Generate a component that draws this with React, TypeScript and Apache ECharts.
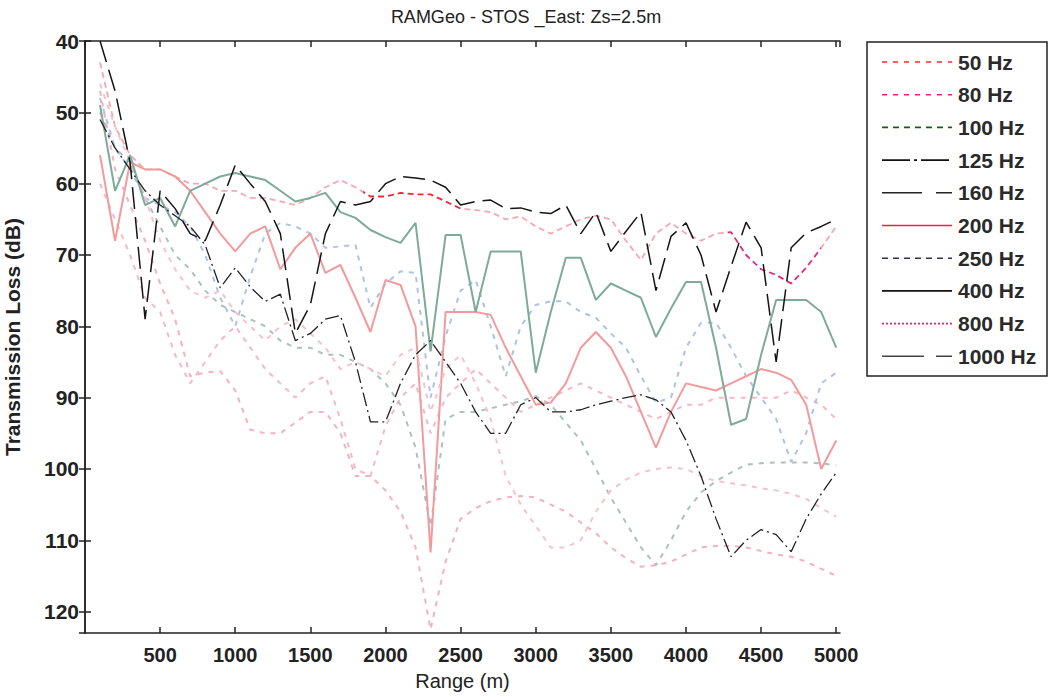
import React, { useEffect, useRef } from "react";
import * as echarts from "echarts";

const ranges = [100, 200, 300, 400, 500, 600, 700, 800, 900, 1000, 1100, 1200, 1300, 1400, 1500, 1600, 1700, 1800, 1900, 2000, 2100, 2200, 2300, 2400, 2500, 2600, 2700, 2800, 2900, 3000, 3100, 3200, 3300, 3400, 3500, 3600, 3700, 3800, 3900, 4000, 4100, 4200, 4300, 4400, 4500, 4600, 4700, 4800, 4900, 5000];

const hz50 = [43, 52, 56, 58, 58, 59, 60, 60, 61, 61, 62, 62, 62.5, 63, 62, 60.5, 59.5, 60.5, 61.8, 61.8, 61.3, 61.5, 61.5, 62.5, 63.5, 63.7, 64, 65, 64.6, 66, 67, 66, 65, 64.5, 65, 68, 70.7, 67, 65.5, 67, 68, 67, 66.8, 70, 72, 72.8, 74, 71.8, 69, 66];
const hz80 = [60, 65, 70, 76, 78, 84, 88, 85, 82, 80, 83, 86, 88, 90, 88, 87, 93, 100, 101, 94, 90, 88, 95, 90, 88, 86, 88, 90, 92, 91, 90, 89, 88, 89, 90, 91, 92, 93, 92, 91, 91, 90, 90, 90, 90, 90, 89, 90, 91, 93];
const hz100 = [50, 55, 57, 62, 66, 70, 72, 75, 77, 78, 79, 80, 82, 83, 83, 84, 84, 85, 86, 88, 91, 97, 108, 93, 92, 92, 91.5, 91, 90.5, 89.8, 91, 93.5, 96, 100, 104, 107.5, 111, 113.5, 110, 106, 103.3, 101.7, 100.5, 99.4, 99.2, 99.1, 99.1, 99.1, 99.2, 99.5];
const hz125 = [48, 55, 58, 62, 63, 64, 66, 70, 76, 80, 73, 67, 65.5, 66, 67, 69, 68.8, 68.6, 77.4, 74, 72.3, 72.5, 90, 81.4, 75, 73.5, 80, 87, 80, 77, 76.5, 76.5, 78, 78.8, 81, 83, 87, 90.7, 90, 83, 79.5, 79.5, 83, 87, 90, 93, 99, 95, 88, 86.5];
const hz160 = [40, 47, 57, 79, 61, 63.5, 67, 68, 63, 57.4, 60, 62.5, 67, 81, 77, 67, 62.5, 63, 62.5, 60, 59, 59.2, 59.5, 60.5, 63, 62.5, 62.3, 63.5, 63.4, 64, 64.2, 63, 67, 64, 69.5, 66.7, 64, 75, 67.4, 65.5, 70, 78, 71.6, 65.4, 69, 85, 69, 66.9, 66, 65];
const hz200 = [56, 68, 57, 58, 58, 59, 61, 64, 67, 69.5, 67, 66, 72, 69, 67, 72.5, 71.4, 76, 80.8, 73.5, 74.2, 80, 111.7, 78, 78, 78, 78.4, 83, 87, 91, 90.7, 88, 83, 80.8, 83, 87, 92, 97, 92, 88, 88.5, 89, 88, 87, 86, 86.5, 87.5, 91, 100, 96];
const hz250 = [47, 58, 63, 68, 74, 79, 87, 86.5, 86.3, 89, 94.5, 95, 95, 93.5, 92, 92, 95, 101, 101, 103, 106, 111, 122.5, 113, 107, 105.5, 104.5, 104, 103.8, 104, 105, 106, 107.5, 109, 111, 112.5, 113.7, 113.5, 113, 112, 111, 110.8, 110.8, 111, 111.5, 112, 112.3, 113, 114, 115];
const hz400 = [51, 55, 58, 61, 63, 64.5, 66, 68.6, 74.6, 71.8, 74.5, 76.5, 75.5, 82, 81, 79, 78.5, 85, 93.4, 93.4, 88, 84, 82, 85, 88, 92, 95, 95, 91, 90, 92, 92, 91.7, 91, 90.5, 90, 89.6, 90.3, 92, 96, 101, 107, 112.3, 110, 108.5, 109.2, 111.6, 107, 103.5, 100.5];
const hz800 = [46, 52, 57, 62, 68, 72, 75, 76, 75, 78, 80, 82, 80, 79, 81, 83, 86, 85, 86, 87, 84, 83, 92, 86, 84, 88, 93, 101, 105, 108, 111, 111, 110, 106, 103, 101.5, 100.5, 100, 99.8, 100, 101, 101.7, 102, 102.3, 102.7, 103, 103.5, 104.2, 105.5, 106.7];
const hz1000 = [49, 61, 56, 63, 62, 66, 61, 60, 59, 58.5, 59, 59.5, 61, 62.5, 62, 61.3, 64, 64.8, 66.5, 67.5, 68.3, 65.5, 83.5, 67.2, 67.2, 78, 69.5, 69.5, 69.5, 86.5, 78, 70.4, 70.4, 76.3, 74, 75, 76, 81.5, 77.5, 73.8, 73.8, 83, 93.8, 93, 84, 76.3, 76.3, 76.3, 78, 83];

const legendLabels = ["50 Hz", "80 Hz", "100 Hz", "125 Hz", "160 Hz", "200 Hz", "250 Hz", "400 Hz", "800 Hz", "1000 Hz"];
const seriesValues = [hz50, hz80, hz100, hz125, hz160, hz200, hz250, hz400, hz800, hz1000];

// plotted (faded scan) styles
const plotStyles: any[] = [
  { type: [6, 4], width: 1.8 },
  { color: "#f4b8c6", type: [5, 6], width: 2 },
  { color: "#aec0b9", type: [5, 6], width: 2 },
  { color: "#adc2e4", type: [5, 6], width: 2 },
  { color: "#151515", type: [22, 8], width: 1.5 },
  { color: "#f29a9c", type: "solid", width: 2 },
  { color: "#f2b2bf", type: [5, 6], width: 2 },
  { color: "#222222", type: [14, 4, 2, 4], width: 1.3 },
  { color: "#f5c3cc", type: [5, 6], width: 2 },
  { color: "#7eaa9a", type: "solid", width: 2 },
];

// legend sample styles
const legendStyles = [
  { color: "#ff2a2a", dash: [5, 6] },
  { color: "#e0208a", dash: [5, 6] },
  { color: "#1a5c1a", dash: [6, 5] },
  { color: "#111111", dash: [28, 4, 3, 4] },
  { color: "#222222", dash: [40, 14, 16] },
  { color: "#ff2020", dash: null },
  { color: "#3c2c44", dash: [6, 5] },
  { color: "#111111", dash: null },
  { color: "#e0207a", dash: [2, 2] },
  { color: "#444444", dash: [42, 12, 16] },
];

export default function App() {
  const ref = useRef<HTMLDivElement>(null);
  useEffect(() => {
    if (!ref.current) return;
    const chart = echarts.init(ref.current, null, { renderer: "svg" });
    const font = "'Liberation Sans', Arial, sans-serif";
    const series = seriesValues.map((vals, i) => {
      const s: any = {
        type: "line",
        name: legendLabels[i],
        data: vals.map((v, j) => [ranges[j], v]),
        symbol: "none",
        lineStyle: plotStyles[i],
        z: i === 4 || i === 7 ? 5 : 2,
      };
      if (plotStyles[i].color) s.itemStyle = { color: plotStyles[i].color };
      return s;
    });

    const legendGraphics: any[] = [
      {
        type: "rect",
        shape: { x: 867, y: 42, width: 180, height: 334 },
        style: { fill: "#fff", stroke: "#222", lineWidth: 1.5 },
      },
    ];
    legendLabels.forEach((lab, i) => {
      const y = 62 + i * 32.7;
      const st = legendStyles[i];
      legendGraphics.push({
        type: "line",
        shape: { x1: 882, y1: y, x2: 952, y2: y },
        style: { stroke: st.color, lineWidth: 1.6, lineDash: st.dash || undefined },
      });
      legendGraphics.push({
        type: "text",
        x: 958,
        y: y,
        style: {
          text: lab,
          fill: "#2a2a2a",
          font: `bold 21px ${font}`,
          verticalAlign: "middle",
        },
      });
    });

    const axisCommon = {
      type: "value",
      splitLine: { show: false },
      axisLine: { show: true, lineStyle: { color: "#222", width: 1.5 } },
      axisTick: { show: true, inside: true, length: 6, lineStyle: { color: "#222", width: 1.5 } },
    };

    chart.setOption({
      animation: false,
      backgroundColor: "#fff",
      title: {
        text: "RAMGeo - STOS _East: Zs=2.5m",
        left: 521,
        top: 3,
        textAlign: "center",
        textStyle: { fontFamily: font, fontSize: 18, fontWeight: "normal", color: "#222" },
      },
      grid: { left: 85, right: 213, top: 41, bottom: 64, show: false, outerBoundsMode: "none", containLabel: false },
      visualMap: {
        show: false,
        type: "piecewise",
        seriesIndex: 0,
        dimension: 0,
        pieces: [
          { gte: 0, lt: 1850, color: "#f3a9b4" },
          { gte: 1850, lte: 2520, color: "#ee2a36" },
          { gt: 2520, lt: 4250, color: "#f3a9b4" },
          { gte: 4250, lte: 4900, color: "#e3287e" },
          { gt: 4900, lte: 5100, color: "#f3a9b4" },
        ],
      },
      xAxis: [
        {
          ...axisCommon,
          position: "bottom",
          min: 0,
          max: 5025,
          interval: 500,
          name: "Range (m)",
          nameLocation: "middle",
          nameGap: 38,
          nameTextStyle: { fontFamily: font, fontSize: 20, color: "#222" },
          axisLabel: {
            fontFamily: font,
            fontSize: 20,
            fontWeight: "bold",
            color: "#222",
            margin: 12,
            showMinLabel: false,
            showMaxLabel: false,
            formatter: (v: number) => String(v),
          },
        },
        {
          ...axisCommon,
          position: "top",
          min: 0,
          max: 5025,
          interval: 500,
          axisLabel: { show: false },
        },
      ],
      yAxis: [
        {
          ...axisCommon,
          position: "left",
          inverse: true,
          min: 40,
          max: 123,
          interval: 10,
          name: "Transmission Loss (dB)",
          nameLocation: "middle",
          nameGap: 62,
          nameTextStyle: { fontFamily: font, fontSize: 21, fontWeight: "bold", color: "#222" },
          axisLabel: {
            fontFamily: font,
            fontSize: 21,
            fontWeight: "bold",
            color: "#222",
            margin: 6,
            showMaxLabel: false,
            formatter: (v: number) => String(v),
          },
        },
        {
          ...axisCommon,
          position: "right",
          inverse: true,
          min: 40,
          max: 123,
          interval: 10,
          axisLabel: { show: false },
        },
      ],
      series,
      graphic: legendGraphics,
    });
    return () => chart.dispose();
  }, []);
  return (
    <div
      ref={ref}
      style={{ position: "fixed", left: 0, top: 0, width: 1053, height: 697, background: "#fff" }}
    />
  );
}
